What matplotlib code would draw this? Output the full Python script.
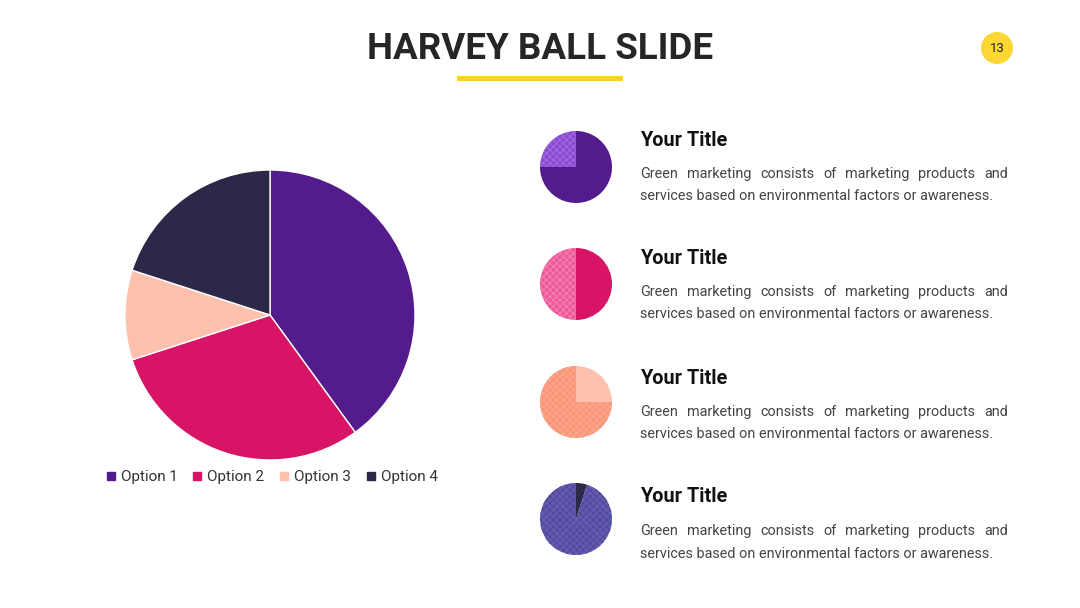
import matplotlib
matplotlib.use("Agg")
import matplotlib.pyplot as plt
from matplotlib.lines import Line2D
from matplotlib.patches import Circle, Rectangle

plt.rcParams['font.family'] = ['Roboto', 'DejaVu Sans']
plt.rcParams['hatch.linewidth'] = 0.5

# Data
options = ['Option 1', 'Option 2', 'Option 3', 'Option 4']
shares = [40, 30, 10, 20]
colors = ['#541B8C', '#D71466', '#FDC1AD', '#2C2948']

ball_filled = [25, 50, 75, 95]          # patterned share of each Harvey ball
ball_solid = ['#541B8C', '#D71466', '#FDC1AD', '#2C2948']
ball_pattern = ['#8B4BD1', '#EE5A98', '#FBA488', '#625AAE']
ball_hatch_col = ['#A877E6', '#F78DBB', '#F88E6E', '#4B4392']

card_title = 'Your Title'
card_text = ['Green marketing consists of marketing products and',
             'services based on environmental factors or awareness.']

W, H = 1080, 608
fig = plt.figure(figsize=(W / 100, H / 100), dpi=100)
ax = fig.add_axes([0, 0, 1, 1])
ax.set_xlim(0, W)
ax.set_ylim(0, H)
ax.axis('off')

def Y(py):
    return H - py

# Title
ax.text(540, Y(49), 'HARVEY BALL SLIDE', ha='center', va='center',
        fontsize=26.5, fontweight='bold', color='#262626')
ax.add_patch(Rectangle((457, Y(80.5)), 166, 5, color='#F9D232', lw=0))

# page badge
ax.add_patch(Circle((997, Y(48)), 16, color='#FDD835', lw=0))
ax.text(997, Y(48), '13', ha='center', va='center', fontsize=9.5, color='#222222')

# Main pie
ax.pie(shares, colors=colors, startangle=90, counterclock=False,
       center=(270, Y(315)), radius=145, frame=True,
       wedgeprops=dict(edgecolor='white', linewidth=1))

# legend
handles = [Line2D([], [], marker='s', ls='', color=c, markersize=5.5) for c in colors]
leg = ax.legend(handles, options, loc='center', bbox_to_anchor=(272 / W, 1 - 477.5 / H),
                ncol=4, frameon=False, fontsize=11, handlelength=0.6,
                handletextpad=0.35, columnspacing=1.0, labelcolor='#333333')

# Harvey balls
ball_y = [167, 284, 402, 519]
for i, cy in enumerate(ball_y):
    p = ball_filled[i]
    if i < 2:
        vals, cols, ccw = [p, 100 - p], [ball_pattern[i], ball_solid[i]], True
        hat = ['xxxxx', None]
    else:
        vals, cols, ccw = [100 - p, p], [ball_solid[i], ball_pattern[i]], False
        hat = [None, 'xxxxx']
    wedges, _ = ax.pie(vals, colors=cols, startangle=90, counterclock=ccw,
                       center=(576, Y(cy)), radius=36, frame=True,
                       wedgeprops=dict(linewidth=0))
    for w, h in zip(wedges, hat):
        if h:
            w.set_hatch(h)
            w.set_edgecolor(ball_hatch_col[i])

ax.set_xlim(0, W)
ax.set_ylim(0, H)
ax.set_aspect('auto')
ax.axis('off')

# card texts
fig.canvas.draw()
r = fig.canvas.get_renderer()
x0, x1 = 640, 1008
title_y = [140, 258, 378, 497]
for ty in title_y:
    ax.text(x0, Y(ty), card_title, ha='left', va='center', fontsize=14.3,
            fontweight='bold', color='#111111')
    # justified first line
    words = card_text[0].split()
    arts = [ax.text(0, 0, w, fontsize=10.4, color='#444444', va='center') for w in words]
    widths = [a.get_window_extent(r).width for a in arts]
    gap = (x1 - x0 - sum(widths)) / (len(words) - 1)
    x = x0
    for a, wd in zip(arts, widths):
        a.set_position((x, Y(ty + 34)))
        x += wd + gap
    ax.text(x0, Y(ty + 56.5), card_text[1], ha='left', va='center', fontsize=10.4,
            color='#444444')

fig.savefig('out.png', dpi=100)
